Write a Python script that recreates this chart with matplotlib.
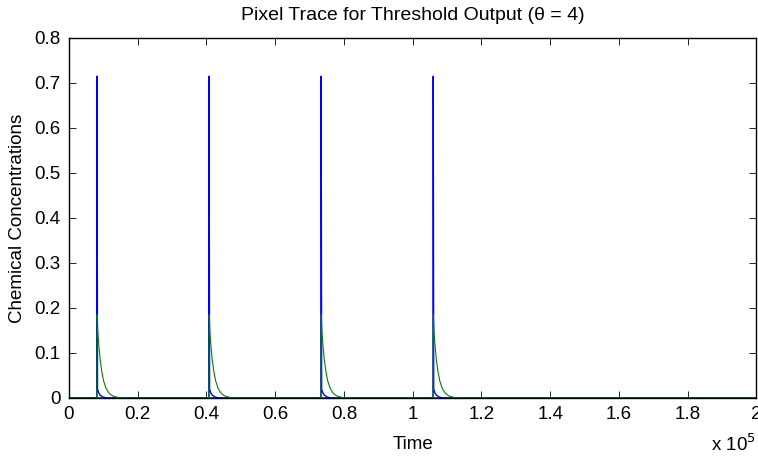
import numpy as np
import matplotlib
matplotlib.use("Agg")
import matplotlib.pyplot as plt

plt.rcParams['font.family'] = ['Liberation Sans', 'DejaVu Sans']

# Spike onset times
spike_times = [8100, 40700, 73300, 105900]
t_end = 200000

# Blue pulse shape: offsets from spike onset and values
blue_offsets = [0, 60, 200, 500, 1000, 1800, 2800]
blue_values = [0.0, 0.715, 0.02, 0.012, 0.006, 0.002, 0.0]

# Green pulse shape
green_offsets = [0, 80, 300, 600, 1000, 1500, 2000, 2700, 3500, 4500, 6000, 8000]
green_values = [0.0, 0.185, 0.146, 0.115, 0.083, 0.056, 0.037, 0.021, 0.011, 0.005, 0.0015, 0.0]

xtick_vals = [0, 0.2, 0.4, 0.6, 0.8, 1, 1.2, 1.4, 1.6, 1.8, 2]
xtick_labels = ['0', '0.2', '0.4', '0.6', '0.8', '1', '1.2', '1.4', '1.6', '1.8', '2']
ytick_vals = [0, 0.1, 0.2, 0.3, 0.4, 0.5, 0.6, 0.7, 0.8]
ytick_labels = ['0', '0.1', '0.2', '0.3', '0.4', '0.5', '0.6', '0.7', '0.8']


def build(offsets, values):
    t = [0.0]
    v = [0.0]
    for s in spike_times:
        for o, val in zip(offsets, values):
            t.append(s + o)
            v.append(val)
    t.append(t_end)
    v.append(0.0)
    return np.array(t), np.array(v)


tb, vb = build(blue_offsets, blue_values)
tg, vg = build(green_offsets, green_values)

fig = plt.figure(figsize=(7.58, 4.61), dpi=100)
ax = fig.add_axes([0.091, 0.1367, 0.907, 0.781])

ax.plot(tb, vb, color='#0000ff', lw=1.0)
ax.plot(tg, vg, color='#008000', lw=0.8)
ax.axhline(0, color='#006060', lw=1.2, zorder=1.5)

ax.set_xlim(0, 2e5)
ax.set_ylim(0, 0.8)
ax.set_xticks([v * 1e5 for v in xtick_vals])
ax.set_xticklabels(xtick_labels)
ax.set_yticks(ytick_vals)
ax.set_yticklabels(ytick_labels)
ax.tick_params(direction='in', top=True, right=True, length=5, width=0.6,
               labelsize=13.5, pad=6)
for sp in ax.spines.values():
    sp.set_linewidth(1.0)

ax.set_xlabel('Time', fontsize=13.5, labelpad=9)
ax.set_ylabel('Chemical Concentrations', fontsize=13.5, labelpad=6)
ax.set_title('Pixel Trace for Threshold Output (\u03b8 = 4)', fontsize=14, pad=13)
fig.text(0.997, 0.012, r'x 10$^5$', fontsize=13.5, ha='right', va='bottom')

fig.savefig('out.png', dpi=100)
